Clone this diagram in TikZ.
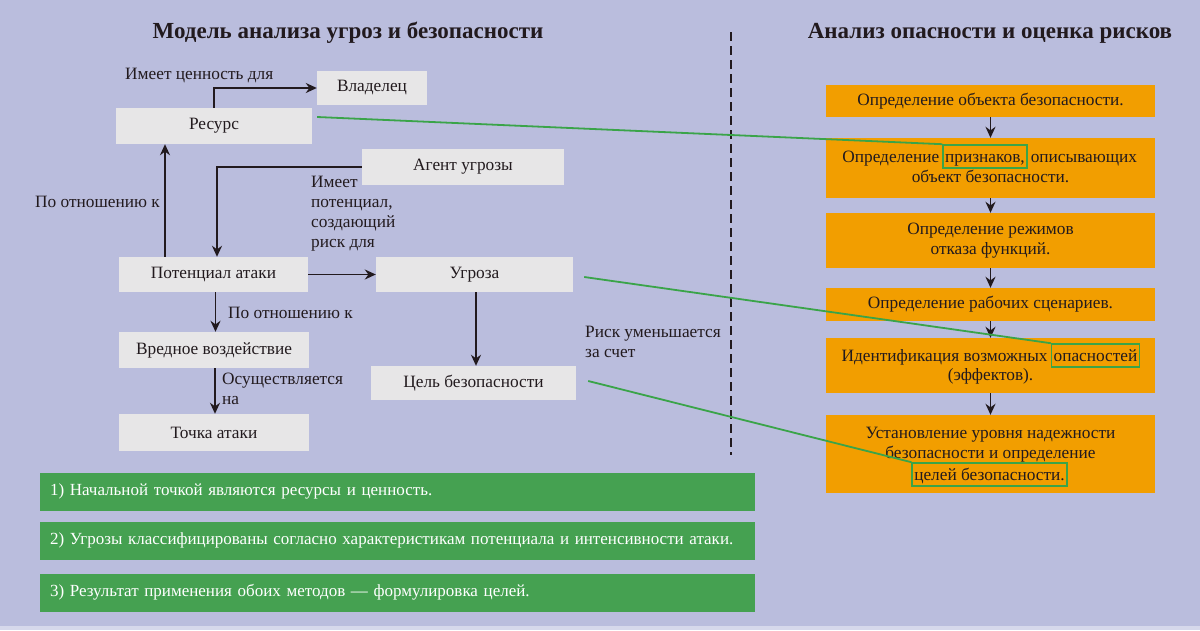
\documentclass[tikz,border=0pt]{standalone}
\usepackage{fontspec}
\setmainfont{Liberation Serif}
\usepackage{tikz}
\usetikzlibrary{arrows.meta,positioning}
\definecolor{Backdrop}{HTML}{BABDDD}
\definecolor{Strip}{HTML}{D6D8EB}
\definecolor{Ink}{HTML}{221A1E}
\definecolor{Paper}{HTML}{E7E6E7}
\definecolor{Amber}{HTML}{F29E00}
\definecolor{Leaf}{HTML}{45A151}
\definecolor{Link}{HTML}{3AA449}

\begin{document}
\begin{tikzpicture}[
  x=1pt,y=-1pt,
  txt/.style={font=\fontsize{17.3}{20}\selectfont,text=Ink,inner sep=0pt},
  title/.style={font=\fontsize{23}{26}\selectfont\bfseries,text=Ink},
  box/.style={fill=Paper,inner sep=0pt,font=\fontsize{17.3}{20}\selectfont,text=Ink},
  stepbox/.style={fill=Amber,minimum width=329pt,inner sep=0pt,align=center,font=\fontsize{17.3}{20}\selectfont,text=Ink},
  word/.style={txt,inner xsep=2pt},
  hlword/.style={txt,draw=Link,line width=1.6pt,inner xsep=2pt,inner ysep=3pt,text height=14pt,text depth=3pt},
  note/.style={fill=Leaf,minimum width=715pt,minimum height=38pt,text width=695pt,inner xsep=10pt,align=left,text=white,font=\fontsize{17}{20}\selectfont},
  arrow/.style={-{Stealth[length=11pt,width=10pt]},draw=Ink,line width=1.8pt},
  link/.style={draw=Link,line width=1.8pt}
]
\useasboundingbox (0,0) rectangle (1200,630);
\fill[Backdrop] (0,0) rectangle (1200,630);
\fill[Strip] (0,626) rectangle (1200,630);

\node[title] (lefttitle) at (348,33) {Модель анализа угроз и безопасности};
\node[title] (righttitle) at (990,33) {Анализ опасности и оценка рисков};

\node[box,minimum width=196pt,minimum height=36pt] (res) at (214,126) {Ресурс};
\node[box,minimum width=110pt,minimum height=34pt] (own) at (372,88) {Владелец};
\node[box,minimum width=202pt,minimum height=36pt] (agent) at (463,167) {Агент угрозы};
\node[box,minimum width=189pt,minimum height=35pt] (pot) at (213.5,274.5) {Потенциал атаки};
\node[box,minimum width=197pt,minimum height=35pt] (thr) at (474.5,274.5) {Угроза};
\node[box,minimum width=190pt,minimum height=36pt] (harm) at (214,350) {Вредное воздействие};
\node[box,minimum width=190pt,minimum height=37pt] (pt) at (214,432.5) {Точка атаки};
\node[box,minimum width=205pt,minimum height=34pt] (goal) at (473.5,383) {Цель безопасности};

\node[txt,anchor=base west] (lblvalue) at (125,79) {Имеет ценность для};
\node[txt,anchor=base west] (lblres) at (35,207) {По отношению к};
\node[txt,anchor=north west,align=left] (lblagent) at (311,176) {Имеет\\потенциал,\\создающий\\риск для};
\node[txt,anchor=base west] (lblharm) at (228,318) {По отношению к};
\node[txt,anchor=north west,align=left] (lblpt) at (222,373) {Осуществляется\\на};
\node[txt,anchor=north west,align=left] (lblrisk) at (585,326) {Риск уменьшается\\за счет};

\draw[arrow] (res.north) |- (own.west);
\draw[arrow] ([xshift=-48.5pt]pot.north) -- ([xshift=-48.5pt]pot.north |- res.south);
\draw[arrow] (agent.west) -| ([xshift=3.5pt]pot.north);
\draw[arrow] (pot) -- (thr);
\draw[arrow] ([xshift=2pt]pot.south) -- ([xshift=2pt]pot.south |- harm.north);
\draw[arrow] ([xshift=1pt]harm.south) -- ([xshift=1pt]harm.south |- pt.north);
\draw[arrow] ([xshift=1.5pt]thr.south) -- ([xshift=1.5pt]thr.south |- goal.north);

\draw[Ink,line width=2pt,dash pattern=on 9pt off 5pt] (731,32) -- (731,455);

\node[stepbox,minimum height=32pt] (s1) at (990.5,101) {Определение объекта безопасности.};
\node[stepbox,minimum height=60pt] (s2) at (990.5,168) {};
\node[stepbox,minimum height=55pt] (s3) at (990.5,240.5) {Определение режимов\\отказа функций.};
\node[stepbox,minimum height=33pt] (s4) at (990.5,304.5) {Определение рабочих сценариев.};
\node[stepbox,minimum height=55pt] (s5) at (990.5,365.5) {};
\node[stepbox,minimum height=78pt] (s6) at (990.5,454) {};

\node[hlword,anchor=base] (hl1) at (985,162) {признаков,};
\node[word,base left=1pt of hl1] (w1a) {Определение};
\node[word,base right=1pt of hl1] (w1b) {описывающих};
\node[txt,anchor=base] (w1c) at (990.5,182.5) {объект безопасности.};

\node[hlword,anchor=base] (hl2) at (1095.5,361) {опасностей};
\node[word,base left=1pt of hl2] (w2a) {Идентификация возможных};
\node[txt,anchor=base] (w2b) at (990.5,380.5) {(эффектов).};

\node[txt,align=center] (w3a) at (990.5,445) {Установление уровня надежности\\безопасности и определение};
\node[hlword,anchor=base] (hl3) at (989.5,480) {целей безопасности.};

\draw[arrow] (s1) -- (s2);
\draw[arrow] (s2) -- (s3);
\draw[arrow] (s3) -- (s4);
\draw[arrow] (s4) -- (s5);
\draw[arrow] (s5) -- (s6);

\draw[link] ([xshift=5pt,yshift=9pt]res.east) -- (hl1.north west);
\draw[link] ([xshift=11pt,yshift=-2.5pt]thr.east) -- (hl2.north west);
\draw[link] ([xshift=12pt,yshift=2pt]goal.east) -- (hl3.north west);

\node[note] (n1) at (397.5,491.5) {1) Начальной точкой являются ресурсы и ценность.};
\node[note] (n2) at (397.5,540.5) {2) Угрозы классифицированы согласно характеристикам потенциала и интенсивности атаки.};
\node[note] (n3) at (397.5,592.5) {3) Результат применения обоих методов — формулировка целей.};
\end{tikzpicture}
\end{document}
